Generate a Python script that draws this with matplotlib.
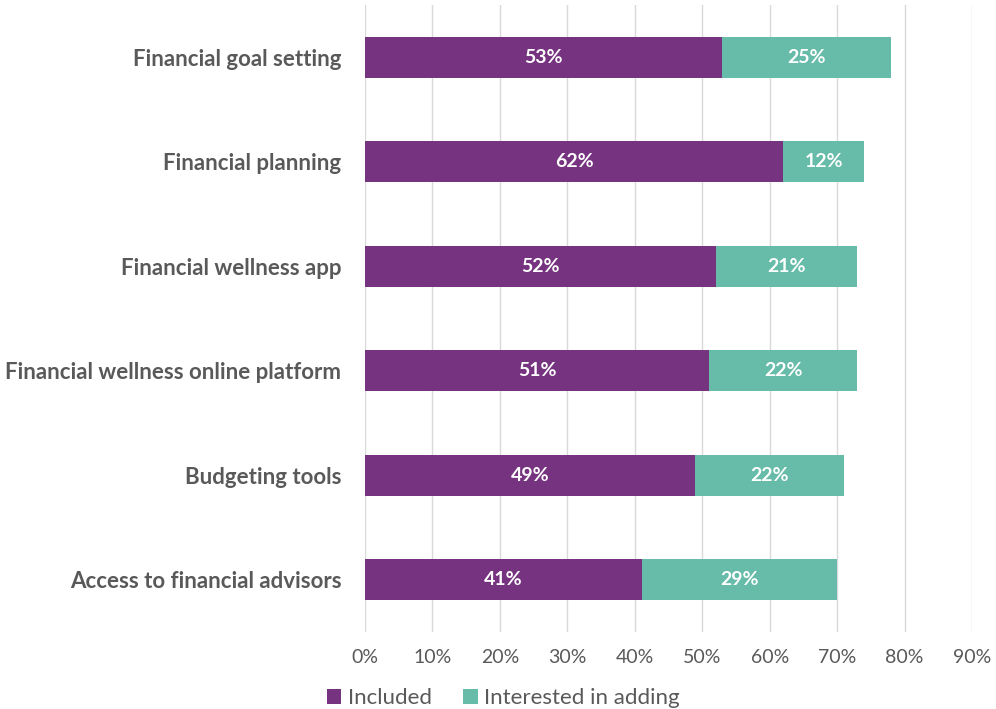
import matplotlib.pyplot as plt
from matplotlib.ticker import PercentFormatter

categories = ['Financial goal setting', 'Financial planning', 'Financial wellness app',
              'Financial wellness online platform', 'Budgeting tools', 'Access to financial advisors']
included = [53, 62, 52, 51, 49, 41]
interested = [25, 12, 21, 22, 22, 29]

purple = '#76337F'
teal = '#66BBA9'
grey = '#595959'

plt.rcParams['font.family'] = ['Lato', 'DejaVu Sans']

fig = plt.figure(figsize=(9.96, 7.09), dpi=100)
ax = fig.add_axes([365 / 996, 1 - 632 / 709, 607 / 996, 627 / 709])

y = list(range(len(categories)))
b1 = ax.barh(y, included, height=0.39, color=purple, label='Included', zorder=3)
b2 = ax.barh(y, interested, left=included, height=0.39, color=teal, label='Interested in adding', zorder=3)

for bars in (b1, b2):
    for r in bars:
        ax.text(r.get_x() + r.get_width() / 2, r.get_y() + r.get_height() / 2,
                f'{r.get_width():.0f}%', ha='center', va='center', color='white',
                fontsize=14, fontweight='bold', zorder=4)

ax.set_xlim(0, 90)
ax.set_ylim(len(categories) - 0.5, -0.5)
ax.set_xticks(range(0, 91, 10))
ax.xaxis.set_major_formatter(PercentFormatter(decimals=0))
ax.set_yticks(y)
ax.set_yticklabels(categories, fontsize=16, fontweight='bold', color=grey)
ax.tick_params(axis='x', labelsize=14, labelcolor=grey, length=0, pad=12)
ax.tick_params(axis='y', length=0, pad=17)
ax.grid(axis='x', color='#D9D9D9', linewidth=1, zorder=0)
for s in ax.spines.values():
    s.set_visible(False)

fig.legend(handles=[b1, b2], loc='lower left', bbox_to_anchor=(307 / 996, -0.027), ncol=2,
           frameon=False, fontsize=16, handlelength=0.65, handleheight=0.65,
           handletextpad=0.3, columnspacing=1.4, labelcolor=grey)

fig.savefig('out.png', dpi=100)
